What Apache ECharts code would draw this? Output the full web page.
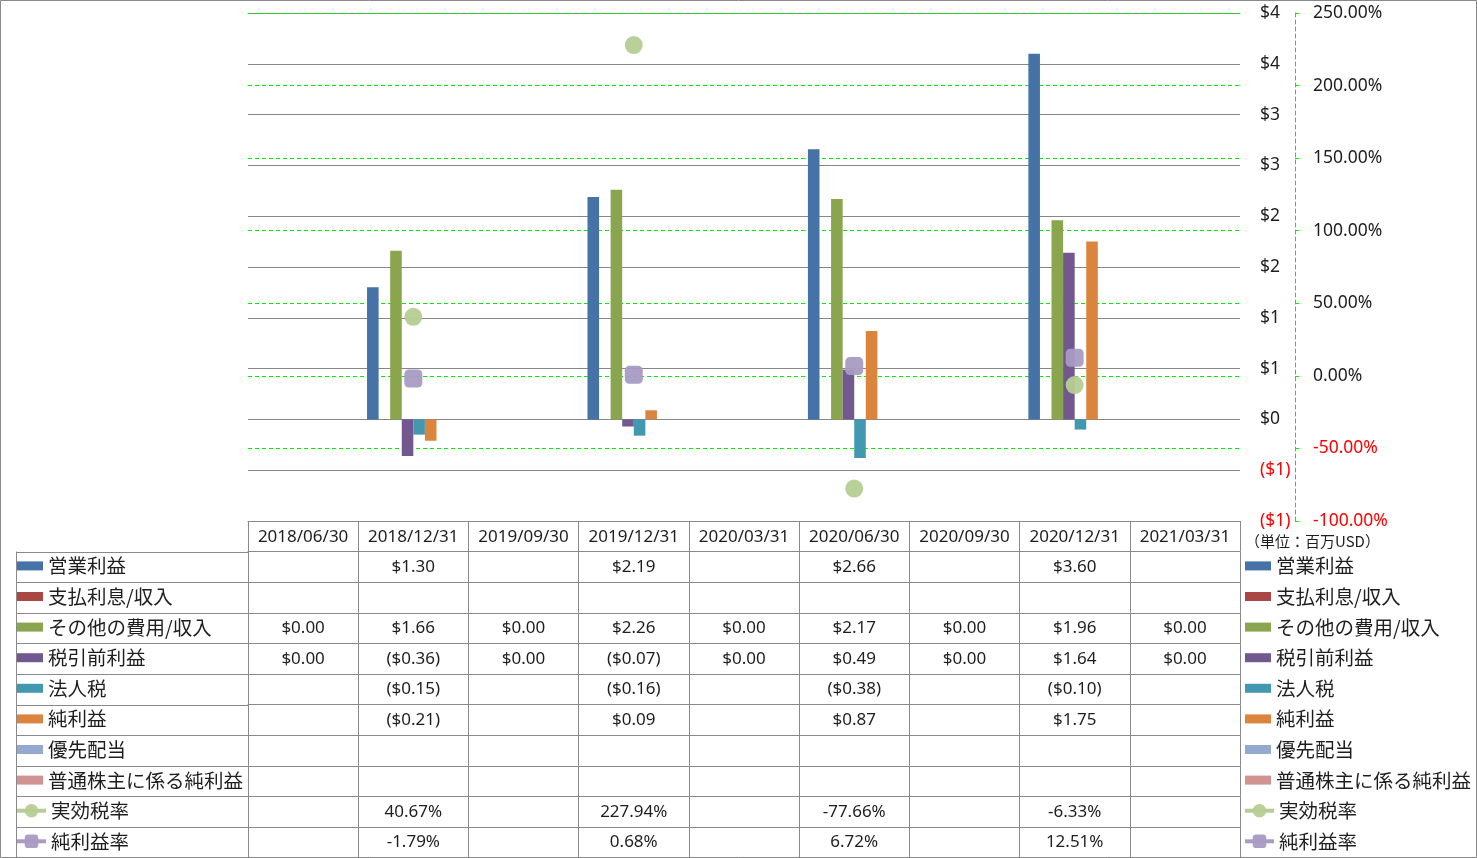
<!DOCTYPE html>
<html>
<head>
<meta charset="utf-8">
<script src="https://cdn.jsdelivr.net/npm/echarts@6/dist/echarts.min.js"></script>
<style>
html,body{margin:0;padding:0;background:#fff;}
#main{width:1477px;height:858px;}
</style>
</head>
<body>
<div id="main"></div>
<script>
// 決算期
var categories = ['2018/06/30','2018/12/31','2019/09/30','2019/12/31','2020/03/31','2020/06/30','2020/09/30','2020/12/31','2021/03/31'];
// 単位: 百万USD
var operatingIncome = [null, 1.30, null, 2.19, null, 2.66, null, 3.60, null];
var interestExpense = [null, null, null, null, null, null, null, null, null];
var otherIncome     = [0, 1.66, 0, 2.26, 0, 2.17, 0, 1.96, 0];
var pretaxIncome    = [0, -0.36, 0, -0.07, 0, 0.49, 0, 1.64, 0];
var incomeTax       = [null, -0.15, null, -0.16, null, -0.38, null, -0.10, null];
var netIncome       = [null, -0.21, null, 0.09, null, 0.87, null, 1.75, null];
var preferredDiv    = [null, null, null, null, null, null, null, null, null];
var netToCommon     = [null, null, null, null, null, null, null, null, null];
// %
var effectiveTaxRate = [null, 40.67, null, 227.94, null, -77.66, null, -6.33, null];
var netMargin        = [null, -1.79, null, 0.68, null, 6.72, null, 12.51, null];

var W = 1477, H = 858;
var gridLeft = 248, gridRight = 237, gridTop = 13, gridBottom = 337;
var rowH = 30.6;
var border = '#898989';
var green = '#00ee00';
var numFont = "'Noto Sans', 'Noto Sans CJK JP', sans-serif";
var jpFont = "'Noto Sans CJK JP', sans-serif";

function money(v) {
  if (v == null) return '';
  return v < 0 ? '($' + (-v).toFixed(2) + ')' : '$' + v.toFixed(2);
}
function pct(v) {
  return v == null ? '' : v.toFixed(2) + '%';
}

var barDefs = [
  {name: '営業利益', data: operatingIncome, color: '#4572a7'},
  {name: '支払利息/収入', data: interestExpense, color: '#aa4643'},
  {name: 'その他の費用/収入', data: otherIncome, color: '#89a54e'},
  {name: '税引前利益', data: pretaxIncome, color: '#71588f'},
  {name: '法人税', data: incomeTax, color: '#4198af'},
  {name: '純利益', data: netIncome, color: '#db843d'},
  {name: '優先配当', data: preferredDiv, color: '#93a9cf'},
  {name: '普通株主に係る純利益', data: netToCommon, color: '#d19392'}
];
var lineDefs = [
  {name: '実効税率', data: effectiveTaxRate, color: '#b6cd94', symbol: 'circle'},
  {name: '純利益率', data: netMargin, color: '#a99bc4', symbol: 'roundRect'}
];

var series = [];
barDefs.forEach(function (d) {
  series.push({
    name: d.name, type: 'bar', data: d.data, barGap: 0, barCategoryGap: '16%',
    itemStyle: {color: d.color}
  });
});
lineDefs.forEach(function (d) {
  series.push({
    name: d.name, type: 'line', yAxisIndex: 1, data: d.data,
    symbol: d.symbol, symbolSize: 18, z: 5,
    itemStyle: {color: d.color, opacity: 0.95},
    lineStyle: {width: 0}
  });
});

// table rows as extra category axes under the grid
var rows = [];
barDefs.forEach(function (d) { rows.push(d.data.map(money)); });
lineDefs.forEach(function (d) { rows.push(d.data.map(pct)); });

var cellLabel = {fontSize: 17, fontFamily: numFont, color: '#1e1e1e', interval: 0, margin: 7};
var xAxes = [{
  type: 'category', data: categories, gridIndex: 0, position: 'bottom',
  axisLine: {show: true, onZero: false, lineStyle: {color: border}},
  axisTick: {show: true, interval: 0, length: rowH, lineStyle: {color: border}},
  axisLabel: Object.assign({}, cellLabel, {margin: 8})
}];
rows.forEach(function (r, i) {
  xAxes.push({
    type: 'category', data: r, gridIndex: 0, position: 'bottom', offset: (i + 1) * rowH,
    axisLine: {show: true, onZero: false, lineStyle: {color: border}},
    axisTick: {show: true, interval: 0, length: rowH, lineStyle: {color: border}},
    axisLabel: cellLabel
  });
});

// left column frame of the table
var tableTop = H - gridBottom + rowH;
var graphics = [{
  type: 'rect', shape: {x: 0.5, y: 0.5, width: W - 1, height: H - 1},
  style: {fill: 'none', stroke: border, lineWidth: 1}, silent: true
}, {
  type: 'line', shape: {x1: 16.5, y1: tableTop, x2: 16.5, y2: H}, style: {stroke: border}, silent: true
}];
for (var i = 0; i <= rows.length; i++) {
  var y = Math.round(tableTop + i * rowH) + 0.5;
  graphics.push({type: 'line', shape: {x1: 16, y1: y, x2: gridLeft, y2: y}, style: {stroke: border}, silent: true});
}

var legendText = {fontSize: 19.5, fontFamily: jpFont, color: '#1e1e1e', lineHeight: 22, padding: 0};
var barNames = barDefs.map(function (d) { return d.name; });
var lineNames = lineDefs.map(function (d) { return d.name; });
function barLegend(left) {
  return {orient: 'vertical', left: left, top: tableTop + (rowH - 22) / 2 - 1, data: barNames, icon: 'rect',
    itemWidth: 26, itemHeight: 9, itemGap: rowH - 22, padding: 0, selectedMode: false, textStyle: legendText};
}
function lineLegend(left) {
  return {orient: 'vertical', left: left, top: tableTop + 8 * rowH + (rowH - 22) / 2 - 1, data: lineNames,
    itemWidth: 29, itemHeight: 17, itemGap: rowH - 22, padding: 0, selectedMode: false, textStyle: legendText,
    lineStyle: {width: 4, opacity: 1}};
}

var chart = echarts.init(document.getElementById('main'));
chart.setOption({
  animation: false,
  backgroundColor: '#fff',
  title: {text: '（単位：百万USD）', left: 1245, top: 534, padding: 0,
    textStyle: {fontSize: 15, fontWeight: 'normal', fontFamily: jpFont, color: '#1e1e1e'}},
  legend: [barLegend(17), lineLegend(15), barLegend(1245), lineLegend(1243)],
  grid: {left: gridLeft, right: gridRight, top: gridTop, bottom: gridBottom, containLabel: false},
  xAxis: xAxes,
  yAxis: [{
    type: 'value', position: 'right', min: -1, max: 4, interval: 0.5,
    axisLine: {show: false}, axisTick: {show: false},
    splitLine: {show: true, lineStyle: {color: '#868686', width: 1}},
    axisLabel: {
      margin: 20, fontSize: 17.5, fontFamily: numFont,
      color: function (v) { return v < 0 ? '#ff0000' : '#1e1e1e'; },
      formatter: function (v) {
        var n = Math.round(Math.abs(v));
        return v < 0 ? '($' + n + ')' : '$' + n;
      }
    }
  }, {
    type: 'value', position: 'right', offset: 55, min: -100, max: 250, interval: 50,
    axisLine: {show: true, lineStyle: {color: green, type: [4, 3], width: 1}},
    axisTick: {show: true, length: 4, lineStyle: {color: green, width: 1}},
    splitLine: {show: true, lineStyle: {color: green, type: [4, 3], width: 1}},
    axisLabel: {
      margin: 18, fontSize: 17.5, fontFamily: numFont,
      color: function (v) { return v < 0 ? '#ff0000' : '#1e1e1e'; },
      formatter: function (v) { return v.toFixed(2) + '%'; }
    }
  }],
  graphic: graphics,
  series: series
});
window.addEventListener('resize', function () { chart.resize(); });
</script>
</body>
</html>
